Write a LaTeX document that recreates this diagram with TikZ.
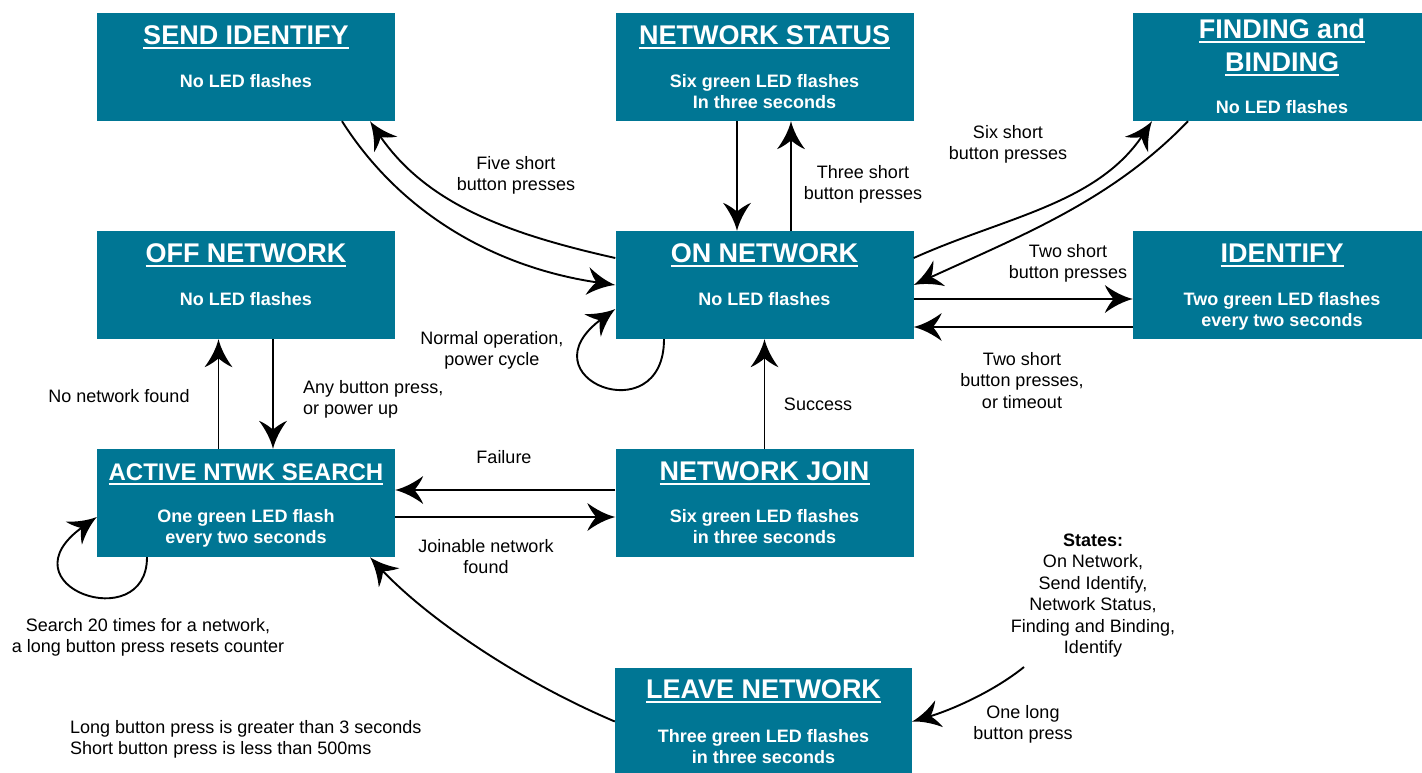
\documentclass[tikz,border=0pt]{standalone}
\usepackage{fontspec}
\setmainfont{Liberation Sans}
\usetikzlibrary{arrows.meta}
\definecolor{boxc}{RGB}{0,118,148}
\pgfdeclarearrow{
  name=Dart,
  setup code={
    \pgfarrowssettipend{0pt}
    \pgfarrowssetlineend{-16pt}
    \pgfarrowssetvisualbackend{-19pt}
    \pgfarrowssetbackend{-28pt}
    \pgfarrowshullpoint{0pt}{0pt}
    \pgfarrowshullpoint{-28pt}{14pt}
    \pgfarrowshullpoint{-28pt}{-14pt}
  },
  drawing code={
    \pgfpathmoveto{\pgfpoint{0pt}{0pt}}
    \pgfpathcurveto{\pgfpoint{-10pt}{2.5pt}}{\pgfpoint{-20pt}{8pt}}{\pgfpoint{-28pt}{14pt}}
    \pgfpathcurveto{\pgfpoint{-25pt}{7pt}}{\pgfpoint{-21pt}{2pt}}{\pgfpoint{-19pt}{0pt}}
    \pgfpathcurveto{\pgfpoint{-21pt}{-2pt}}{\pgfpoint{-25pt}{-7pt}}{\pgfpoint{-28pt}{-14pt}}
    \pgfpathcurveto{\pgfpoint{-20pt}{-8pt}}{\pgfpoint{-10pt}{-2.5pt}}{\pgfpoint{0pt}{0pt}}
    \pgfpathclose
    \pgfusepathqfill
  }
}
\newcommand\ttlu[1]{\setbox0=\hbox{#1}\rlap{\copy0}\rule[-5pt]{\wd0}{2.3pt}}
\newcommand\mlc[1]{\begin{tabular}[t]{@{}c@{}}#1\end{tabular}}
\newcommand\mll[1]{\begin{tabular}[t]{@{}l@{}}#1\end{tabular}}
\begin{document}
\begin{tikzpicture}[x=1pt,y=-1pt,
  stbox/.style={rectangle, fill=boxc, minimum width=298pt, minimum height=108pt, inner sep=0pt},
  ttl/.style={text=white, font=\bfseries\fontsize{27}{30}\selectfont, anchor=base, inner sep=0pt},
  bdy/.style={text=white, font=\bfseries\fontsize{18}{21.5}\selectfont, anchor=base, inner sep=0pt},
  lbl/.style={font=\fontsize{18}{21.5}\selectfont, anchor=base, inner sep=0pt},
  lbll/.style={lbl, anchor=base west},
  conn/.style={line width=1.9pt, -{Dart}},
]
\useasboundingbox (0,0) rectangle (1422,772);
\clip (0,0) rectangle (1422,772);

% boxes
\node[stbox] (SI) at (246,67) {};
\node[ttl] (SIt) at (246,44) {\ttlu{SEND IDENTIFY}};
\node[bdy] (SIb) at (246,87) {No LED flashes};

\node[stbox] (NS) at (764.5,67) {};
\node[ttl] (NSt) at (764.5,44) {\ttlu{NETWORK STATUS}};
\node[bdy] (NSb) at (764.5,87) {\mlc{Six green LED flashes\\In three seconds}};

\node[stbox] (FB) at (1282,67) {};
\node[ttl] (FBt1) at (1282,38) {\ttlu{FINDING and}};
\node[ttl] (FBt2) at (1282,71) {\ttlu{BINDING}};
\node[bdy] (FBb) at (1282,113) {No LED flashes};

\node[stbox] (OFF) at (246,285) {};
\node[ttl] (OFFt) at (246,262) {\ttlu{OFF NETWORK}};
\node[bdy] (OFFb) at (246,305) {No LED flashes};

\node[stbox] (ON) at (764.5,285) {};
\node[ttl] (ONt) at (764.5,262) {\ttlu{ON NETWORK}};
\node[bdy] (ONb) at (764.5,305) {No LED flashes};

\node[stbox] (ID) at (1282,285) {};
\node[ttl] (IDt) at (1282,262) {\ttlu{IDENTIFY}};
\node[bdy] (IDb) at (1282,305) {\mlc{Two green LED flashes\\every two seconds}};

\node[stbox] (ANS) at (246,503) {};
\node[ttl, font=\bfseries\fontsize{24}{28}\selectfont] (ANSt) at (246,480) {\ttlu{ACTIVE NTWK SEARCH}};
\node[bdy] (ANSb) at (246,522) {\mlc{One green LED flash\\every two seconds}};

\node[stbox] (NJ) at (764.5,503) {};
\node[ttl] (NJt) at (764.5,480) {\ttlu{NETWORK JOIN}};
\node[bdy] (NJb) at (764.5,522) {\mlc{Six green LED flashes\\in three seconds}};

\node[stbox, minimum width=297pt, minimum height=107pt] (LV) at (763.5,721.5) {};
\node[ttl] (LVt) at (763.5,698) {\ttlu{LEAVE NETWORK}};
\node[bdy] (LVb) at (763.5,742) {\mlc{Three green LED flashes\\in three seconds}};

% labels
\node[lbl] (l5) at (516,169) {\mlc{Five short\\button presses}};
\node[lbl] (l3) at (863,178) {\mlc{Three short\\button presses}};
\node[lbl] (l6) at (1008,138) {\mlc{Six short\\button presses}};
\node[lbl] (l2a) at (1068,257) {\mlc{Two short\\button presses}};
\node[lbl] (l2b) at (1022,365) {\mlc{Two short\\button presses,\\or timeout}};
\node[lbl] (lsucc) at (818,410) {Success};
\node[lbl] (lnorm) at (492,344) {\mlc{Normal operation,\\power cycle}};
\node[lbl] (lnonet) at (119,402) {No network found};
\node[lbll] (lany) at (303,393) {\mll{Any button press,\\or power up}};
\node[lbl] (lfail) at (504,463) {Failure};
\node[lbl] (ljoin) at (486,552) {\mlc{Joinable network\\found}};
\node[lbl] (lsearch) at (148,631) {\mlc{Search 20 times for a network,\\a long button press resets counter}};
\node[lbll] (llong) at (70,733) {\mll{Long button press is greater than 3 seconds\\Short button press is less than 500ms}};
\node[lbl] (lstates) at (1093,546) {\mlc{\textbf{States:}\\On Network,\\Send Identify,\\Network Status,\\Finding and Binding,\\Identify}};
\node[lbl] (lone) at (1023,718) {\mlc{One long\\button press}};
\coordinate (stEnd) at (1024,667);

% connectors
\draw[conn] ([xshift=96pt]SI.south) .. controls +(59,93) and +(-119,-17) .. (ON.west);
\draw[conn] ([yshift=27pt]ON.west) .. controls +(-107,-24) and +(56,83) .. ([xshift=124pt]SI.south);
\draw[conn] ([yshift=27pt]ON.east) .. controls +(91,-41) and +(-55,83) .. ([xshift=-130pt]FB.south);
\draw[conn] ([xshift=-94pt]FB.south) .. controls +(-76,79) and +(109,-50) .. (ON.east);
\draw[conn] ([xshift=-27.5pt]NS.south) -- ([xshift=-27.5pt]ON.north);
\draw[conn] ([xshift=26.5pt]ON.north) -- ([xshift=26.5pt]NS.south);
\draw[conn] ([yshift=-14pt]ON.east) -- ([yshift=-14pt]ID.west);
\draw[conn] ([yshift=-42pt]ID.west) -- ([yshift=-42pt]ON.east);
\draw[conn] ([xshift=-100.5pt]ON.south) .. controls +(0,95) and +(-95,69) .. ([yshift=-24pt]ON.west);
\draw[conn] (NJ.north) -- (ON.south);
\draw[conn] ([xshift=-27.5pt]ANS.north) -- ([xshift=-27.5pt]OFF.south);
\draw[conn] ([xshift=27pt]OFF.south) -- ([xshift=27pt]ANS.north);
\draw[conn] ([yshift=13pt]NJ.west) -- ([yshift=13pt]ANS.east);
\draw[conn] ([yshift=-14pt]ANS.east) -- ([yshift=-14pt]NJ.west);
\draw[conn] ([xshift=-99pt]ANS.south) .. controls +(0,80) and +(-98,69) .. ([yshift=-14pt]ANS.west);
\draw[conn] (LV.west) .. controls +(-101,-43) and +(54,58) .. ([xshift=124pt]ANS.south);
\draw[conn] (stEnd) .. controls +(-31,25) and +(38,-11) .. (LV.east);
\end{tikzpicture}
\end{document}
